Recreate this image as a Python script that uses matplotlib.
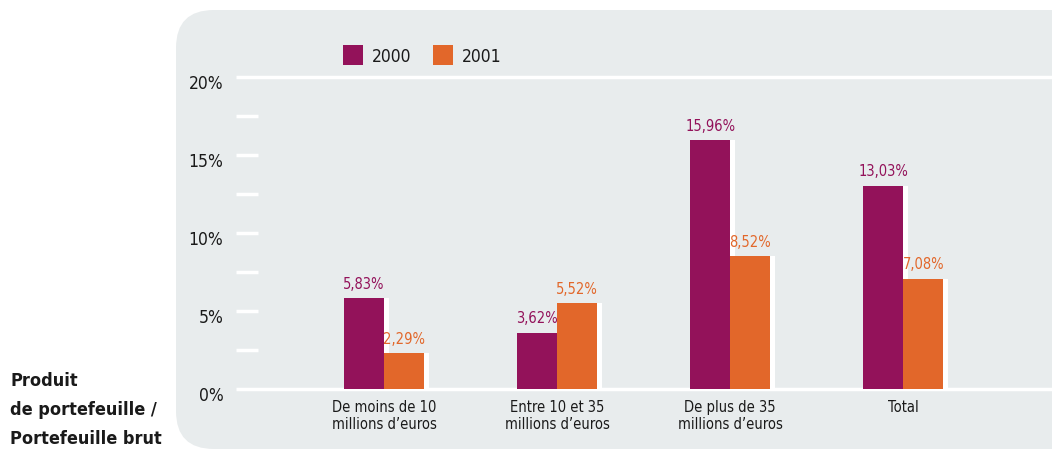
import matplotlib
matplotlib.use("Agg")
import matplotlib.pyplot as plt
from matplotlib.patches import FancyBboxPatch, Rectangle
from matplotlib.transforms import ScaledTranslation

categories = ["De moins de 10\nmillions d\u2019euros", "Entre 10 et 35\nmillions d\u2019euros",
              "De plus de 35\nmillions d\u2019euros", "Total"]
values_2000 = [5.83, 3.62, 15.96, 13.03]
values_2001 = [2.29, 5.52, 8.52, 7.08]
labels_2000 = ["5,83%", "3,62%", "15,96%", "13,03%"]
labels_2001 = ["2,29%", "5,52%", "8,52%", "7,08%"]
yticks = [0, 5, 10, 15, 20]
ytick_labels = ["0%", "5%", "10%", "15%", "20%"]

purple = "#93125a"
orange = "#e2672a"
panel = "#e8eced"
dark = "#1a1a1a"

plt.rcParams["font.family"] = ["DejaVu Sans"]
plt.rcParams["font.stretch"] = "condensed"

W, H = 1052, 450
fig = plt.figure(figsize=(W / 100, H / 100), dpi=100)

# rounded grey panel
bg = FancyBboxPatch((176 / W, 1 / H), 1.0, (H - 11) / H,
                    boxstyle="round,pad=0,rounding_size=0.036",
                    transform=fig.transFigure, facecolor=panel, edgecolor="none",
                    mutation_aspect=W / H, zorder=-5)
fig.patches.append(bg)

# axes: x px 236..1052, y px 389 (0%) .. 77 (20%)
ax = fig.add_axes([236 / W, (H - 389) / H, (W - 236) / W, (389 - 77) / H])
ax.set_facecolor("none")
for s in ax.spines.values():
    s.set_visible(False)

slope = 173.1
x0 = 384.0
ax.set_xlim((236 - x0) / slope, (W - x0) / slope)
ax.set_ylim(0, 20)
xmin, xmax = ax.get_xlim()

bw = 40 / slope
shadow = 5 / slope
pos = list(range(len(categories)))

# full-width white lines at 0 and 20, short ticks between
ax.hlines([0, 20], xmin, xmax, color="white", lw=2.5, zorder=1, clip_on=False)
ax.hlines([2.5, 5, 7.5, 10, 12.5, 15, 17.5], xmin, xmin + 22 / slope,
          color="white", lw=2.5, zorder=1)

x_a = [p - bw / 2 for p in pos]
x_b = [p + bw / 2 for p in pos]
ax.bar([x + shadow for x in x_a], values_2000, bw, color="white", zorder=2)
ax.bar([x + shadow for x in x_b], values_2001, bw, color="white", zorder=2)
ax.bar(x_a, values_2000, bw, color=purple, zorder=3)
ax.bar(x_b, values_2001, bw, color=orange, zorder=3)

for x, v, t in zip(x_a, values_2000, labels_2000):
    ax.text(x, v + 0.4, t, ha="center", va="bottom", color=purple, fontsize=10.5)
for x, v, t in zip(x_b, values_2001, labels_2001):
    ax.text(x, v + 0.4, t, ha="center", va="bottom", color=orange, fontsize=10.5)

ax.set_xticks(pos)
ax.set_xticklabels(categories, fontsize=10.5, color=dark, linespacing=1.15)
ax.tick_params(axis="x", length=0, pad=8)

ax.set_yticks(yticks)
ax.set_yticklabels(ytick_labels, fontsize=12.5, color=dark)
ax.tick_params(axis="y", length=0, pad=9)
for lab in ax.get_yticklabels():
    lab.set_transform(lab.get_transform() + ScaledTranslation(0, -5 / 100, fig.dpi_scale_trans))

# legend
for xpx, col, txt in [(343, purple, "2000"), (433, orange, "2001")]:
    fig.patches.append(Rectangle((xpx / W, (H - 65) / H), 20 / W, 20 / H,
                                 transform=fig.transFigure, facecolor=col, edgecolor="none"))
    fig.text((xpx + 29) / W, (H - 57) / H, txt, fontsize=12.5, color=dark, va="center")

fig.text(10 / W, (H - 410) / H, "Produit\nde portefeuille /\nPortefeuille brut",
         fontsize=13, fontweight="bold", color=dark, va="center", linespacing=1.8)

fig.savefig("out.png", dpi=100)
